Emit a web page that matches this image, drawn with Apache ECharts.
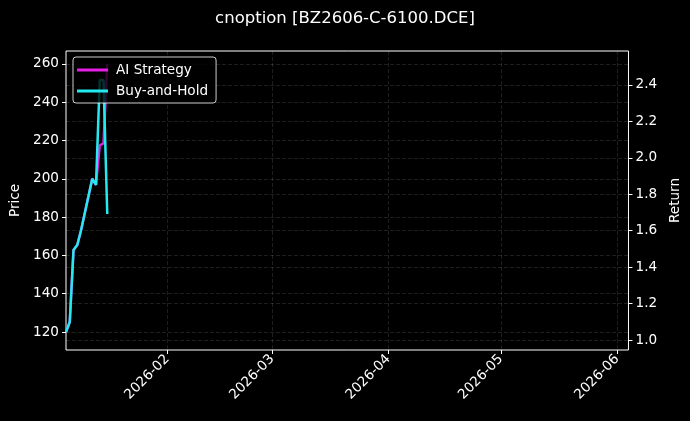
<!DOCTYPE html>
<html>
<head>
<meta charset="UTF-8">
<title>cnoption</title>
<script src="https://cdn.jsdelivr.net/npm/echarts@6/dist/echarts.min.js"></script>
<style>
  html, body { margin: 0; padding: 0; background: #000; }
  #chart { width: 690px; height: 421px; }
</style>
</head>
<body>
<div id="chart"></div>
<script>
// data
var dates = ['2026-01-05', '2026-01-06', '2026-01-07', '2026-01-08', '2026-01-09',
             '2026-01-12', '2026-01-13', '2026-01-14', '2026-01-15', '2026-01-16'];
var aiStrategy = [120, 125.2, 162.8, 165.4, 173, 200, 196.8, 217.5, 218.5, 260];
var buyAndHold = [120, 125.2, 162.8, 165.4, 173, 200, 196.8, 251.6, 251.6, 181.6];
var monthTicks = ['2026-02-01', '2026-03-01', '2026-04-01', '2026-05-01', '2026-06-01'];
var priceTicks = [120, 140, 160, 180, 200, 220, 240, 260];
var returnTicks = [1.0, 1.2, 1.4, 1.6, 1.8, 2.0, 2.2, 2.4];

var font = 'DejaVu Sans';
var fs = 13.6;
var gridLine = { show: true, lineStyle: { color: 'rgba(255,255,255,0.2)', width: 0.6, type: [4, 2] } };

function ts(d) { return new Date(d + 'T00:00:00Z').getTime(); }
function pairs(vals) {
    return dates.map(function (d, i) { return [ts(d), vals[i]]; });
}
var monthTs = monthTicks.map(ts);

var chart = echarts.init(document.getElementById('chart'));
var option = {
    backgroundColor: '#000',
    animation: false,
    title: {
        text: 'cnoption [BZ2606-C-6100.DCE]',
        left: 'center',
        top: 5,
        textStyle: { color: '#fff', fontSize: 16.5, fontWeight: 'normal', fontFamily: font }
    },
    grid: {
        left: 66, right: 61, top: 51, bottom: 71,
        show: true, borderColor: '#fff', borderWidth: 1, backgroundColor: 'transparent'
    },
    legend: {
        orient: 'vertical',
        left: 73, top: 57,
        padding: [6, 8, 5, 4],
        itemGap: 7,
        itemWidth: 31, itemHeight: 3,
        icon: 'rect',
        backgroundColor: 'rgba(0,0,0,0.8)',
        borderColor: 'rgba(255,255,255,0.8)',
        borderWidth: 1,
        borderRadius: 3,
        textStyle: { color: '#fff', fontSize: fs, fontFamily: font, padding: [0, 0, 0, 3] },
        data: ['AI Strategy', 'Buy-and-Hold']
    },
    xAxis: {
        type: 'value',
        min: ts('2026-01-05'),
        max: ts('2026-06-04'),
        axisLine: { show: false },
        axisTick: { show: true, length: 4, customValues: monthTs, lineStyle: { color: '#fff' } },
        splitLine: gridLine,
        axisLabel: {
            customValues: monthTs,
            rotate: 45,
            margin: 7,
            color: '#fff',
            fontSize: fs,
            fontFamily: font,
            formatter: function (v) {
                var d = new Date(v);
                var m = d.getUTCMonth() + 1;
                return d.getUTCFullYear() + '-' + (m < 10 ? '0' + m : m);
            }
        }
    },
    yAxis: [{
        type: 'value',
        min: 110.6,
        max: 266.7,
        name: 'Price',
        nameLocation: 'middle',
        nameRotate: 90,
        nameGap: 43,
        nameTextStyle: { color: '#fff', fontSize: fs, fontFamily: font },
        axisLine: { show: false },
        axisTick: { show: true, length: 4, customValues: priceTicks, lineStyle: { color: '#fff' } },
        splitLine: gridLine,
        axisLabel: { customValues: priceTicks, margin: 7, color: '#fff', fontSize: fs, fontFamily: font }
    }, {
        type: 'value',
        position: 'right',
        min: 0.945,
        max: 2.586,
        name: 'Return',
        nameLocation: 'middle',
        nameRotate: 90,
        nameGap: 35,
        nameTextStyle: { color: '#fff', fontSize: fs, fontFamily: font },
        axisLine: { show: false },
        axisTick: { show: true, length: 4, customValues: returnTicks, lineStyle: { color: '#fff' } },
        splitLine: gridLine,
        axisLabel: {
            customValues: returnTicks, margin: 7, color: '#fff', fontSize: fs, fontFamily: font,
            formatter: function (v) { return v.toFixed(1); }
        }
    }],
    series: [{
        name: 'AI Strategy',
        type: 'line',
        yAxisIndex: 0,
        showSymbol: false,
        color: '#e51fe5',
        lineStyle: { width: 2.5 },
        data: pairs(aiStrategy)
    }, {
        name: 'Buy-and-Hold',
        type: 'line',
        yAxisIndex: 0,
        showSymbol: false,
        color: '#22eaf0',
        lineStyle: { width: 2.5 },
        data: pairs(buyAndHold)
    }]
};
chart.setOption(option);
</script>
</body>
</html>
